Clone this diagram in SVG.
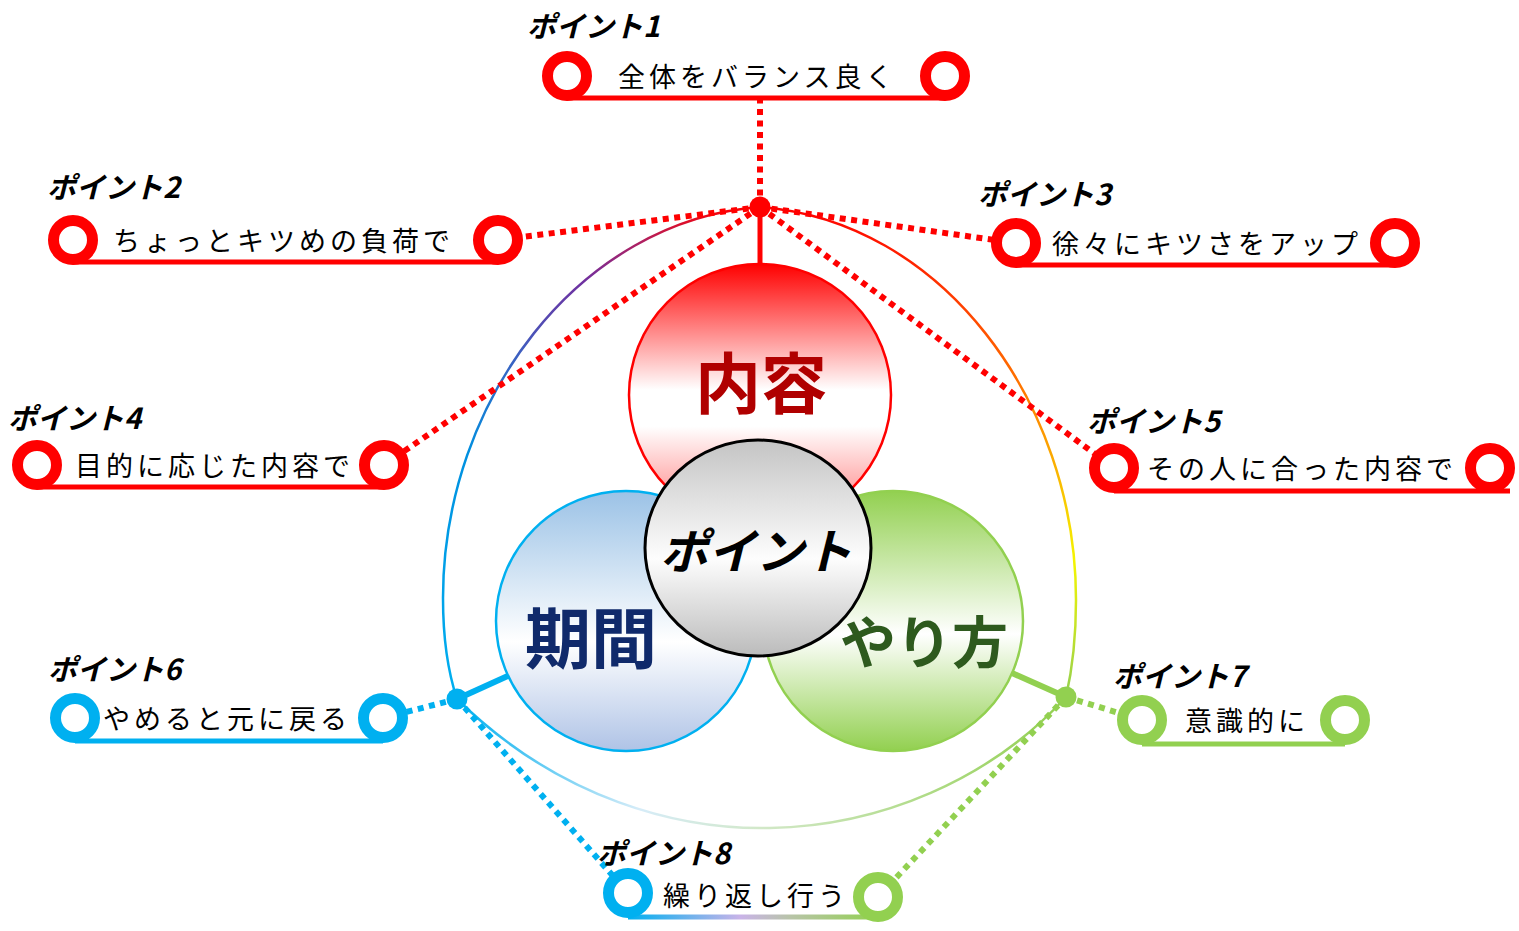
<svg xmlns="http://www.w3.org/2000/svg" width="1519" height="931" viewBox="0 0 1519 931">
<defs>
<linearGradient id="gRed" x1="0" y1="0" x2="0" y2="1">
<stop offset="0" stop-color="#FF0000"/><stop offset="0.48" stop-color="#FFFFFF"/><stop offset="0.62" stop-color="#FFFFFF"/><stop offset="1" stop-color="#FF7070"/>
</linearGradient>
<linearGradient id="gBlue" x1="0" y1="0" x2="0" y2="1">
<stop offset="0" stop-color="#9BC2E6"/><stop offset="0.58" stop-color="#FFFFFF"/><stop offset="1" stop-color="#AFC3E6"/>
</linearGradient>
<linearGradient id="gGreen" x1="0" y1="0" x2="0" y2="1">
<stop offset="0" stop-color="#92D050"/><stop offset="0.55" stop-color="#FFFFFF"/><stop offset="1" stop-color="#92D050"/>
</linearGradient>
<linearGradient id="gGray" x1="0" y1="0" x2="0" y2="1">
<stop offset="0" stop-color="#C4C4C4"/><stop offset="0.55" stop-color="#FDFDFD"/><stop offset="1" stop-color="#BBBBBB"/>
</linearGradient>
<linearGradient id="gLeftArc" gradientUnits="userSpaceOnUse" x1="0" y1="207" x2="0" y2="699">
<stop offset="0" stop-color="#FF0000"/><stop offset="0.07" stop-color="#B02060"/><stop offset="0.15" stop-color="#7030A0"/><stop offset="0.3" stop-color="#3D5FC0"/><stop offset="0.5" stop-color="#0090E0"/><stop offset="1" stop-color="#00B0F0"/>
</linearGradient>
<linearGradient id="gRightArc" gradientUnits="userSpaceOnUse" x1="0" y1="207" x2="0" y2="697">
<stop offset="0" stop-color="#FF0000"/><stop offset="0.35" stop-color="#FF7000"/><stop offset="0.72" stop-color="#F5F500"/><stop offset="1" stop-color="#92D050"/>
</linearGradient>
<linearGradient id="gBottomArc" gradientUnits="userSpaceOnUse" x1="457" y1="0" x2="1066" y2="0">
<stop offset="0" stop-color="#00B0F0"/><stop offset="0.3" stop-color="#D6ECF8"/><stop offset="0.5" stop-color="#D2E8C8"/><stop offset="1" stop-color="#92D050"/>
</linearGradient>
<linearGradient id="gLine8" gradientUnits="userSpaceOnUse" x1="628" y1="0" x2="878" y2="0">
<stop offset="0" stop-color="#00B0F0"/><stop offset="0.45" stop-color="#C9B3E8"/><stop offset="0.65" stop-color="#B8C4A8"/><stop offset="1" stop-color="#92D050"/>
</linearGradient>
<style>
.t{font-family:"Noto Sans CJK JP","Noto Sans CJK SC",sans-serif;font-size:27px;letter-spacing:4px;fill:#000}
.h{font-family:"Noto Sans CJK JP","Noto Sans CJK SC",sans-serif;font-size:29px;font-weight:700;font-style:italic;fill:#000}
.big{font-family:"Noto Sans CJK JP","Noto Sans CJK SC",sans-serif;font-weight:700;text-anchor:middle}
.ringR{fill:#fff;stroke:#FF0000;stroke-width:11}
.ringB{fill:#fff;stroke:#00B0F0;stroke-width:11}
.ringG{fill:#fff;stroke:#92D050;stroke-width:11}
.ulR{stroke:#FF0000;stroke-width:5;fill:none}
.ulB{stroke:#00B0F0;stroke-width:5;fill:none}
.ulG{stroke:#92D050;stroke-width:5;fill:none}
.dR{stroke:#FF0000;stroke-width:6;stroke-dasharray:6 5.5;fill:none}
.dB{stroke:#00B0F0;stroke-width:6;stroke-dasharray:6 5.5;fill:none}
.dG{stroke:#92D050;stroke-width:6;stroke-dasharray:6 5.5;fill:none}
</style>
</defs>
<rect width="1519" height="931" fill="#FFFFFF"/>

<g id="outer-shape" fill="none" stroke-width="2.5">
<path d="M760,207 C580,220 443,400 443,598 C443,640 449,675 457,699" stroke="url(#gLeftArc)"/>
<path d="M760,207 C940,220 1076,400 1076,600 C1076,640 1071,675 1066,697" stroke="url(#gRightArc)"/>
<path d="M457,699 C560,800 680,830 770,828 C880,826 990,780 1066,697" stroke="url(#gBottomArc)"/>
</g>

<g id="connectors">
<line x1="760" y1="207" x2="760" y2="266" stroke="#FF0000" stroke-width="5"/>
<line x1="457" y1="699" x2="510" y2="675" stroke="#00B0F0" stroke-width="6"/>
<line x1="1066" y1="697" x2="1012" y2="673" stroke="#92D050" stroke-width="6"/>
<line class="dR" x1="760" y1="207" x2="760" y2="100"/>
<line class="dR" x1="760" y1="207" x2="498" y2="240"/>
<line class="dR" x1="760" y1="207" x2="384" y2="465"/>
<line class="dR" x1="760" y1="207" x2="1016" y2="243"/>
<line class="dR" x1="760" y1="207" x2="1114" y2="468"/>
<line class="dB" x1="457" y1="699" x2="383" y2="718"/>
<line class="dB" x1="457" y1="699" x2="628" y2="893"/>
<line class="dG" x1="1066" y1="697" x2="1142" y2="720"/>
<line class="dG" x1="1066" y1="697" x2="878" y2="897"/>
<circle cx="760" cy="207" r="10.5" fill="#FF0000"/>
<circle cx="457" cy="699" r="10.5" fill="#00B0F0"/>
<circle cx="1066" cy="697" r="10.5" fill="#92D050"/>
</g>

<g id="node-naiyou">
<circle cx="760" cy="395" r="131" fill="url(#gRed)" stroke="#FF0000" stroke-width="2.5"/>
<text class="big" x="761" y="408" font-size="66" fill="#B00000">内容</text>
</g>
<g id="node-kikan">
<circle cx="626" cy="621" r="130" fill="url(#gBlue)" stroke="#00B0F0" stroke-width="2.5"/>
<text class="big" x="591" y="663" font-size="66" fill="#102A6B">期間</text>
</g>
<g id="node-yarikata">
<circle cx="893" cy="621" r="130" fill="url(#gGreen)" stroke="#92D050" stroke-width="2.5"/>
<text class="big" x="924" y="663" font-size="56" fill="#2E5A1E">やり方</text>
</g>
<g id="node-point">
<ellipse cx="758" cy="548" rx="113" ry="108" fill="url(#gGray)" stroke="#000" stroke-width="3"/>
<text class="big" x="756" y="569" font-size="48" font-weight="900" font-style="italic" fill="#000">ポイント</text>
</g>

<g id="label-1">
<line class="ulR" x1="567" y1="98" x2="945" y2="98"/>
<circle class="ringR" cx="567" cy="76" r="19.5"/>
<circle class="ringR" cx="945" cy="76" r="19.5"/>
<text class="h" x="527" y="37">ポイント1</text>
<text class="t" x="618" y="87">全体をバランス良く</text>
</g>
<g id="label-2">
<line class="ulR" x1="73" y1="262" x2="498" y2="262"/>
<circle class="ringR" cx="73" cy="240" r="19.5"/>
<circle class="ringR" cx="498" cy="240" r="19.5"/>
<text class="h" x="47" y="198">ポイント2</text>
<text class="t" x="113" y="251">ちょっとキツめの負荷で</text>
</g>
<g id="label-3">
<line class="ulR" x1="1016" y1="265" x2="1395" y2="265"/>
<circle class="ringR" cx="1016" cy="243" r="19.5"/>
<circle class="ringR" cx="1395" cy="243" r="19.5"/>
<text class="h" x="978" y="205">ポイント3</text>
<text class="t" x="1052" y="254">徐々にキツさをアップ</text>
</g>
<g id="label-4">
<line class="ulR" x1="37" y1="487" x2="384" y2="487"/>
<circle class="ringR" cx="37" cy="465" r="19.5"/>
<circle class="ringR" cx="384" cy="465" r="19.5"/>
<text class="h" x="8" y="429">ポイント4</text>
<text class="t" x="75" y="476">目的に応じた内容で</text>
</g>
<g id="label-5">
<line class="ulR" x1="1114" y1="491" x2="1510" y2="491"/>
<circle class="ringR" cx="1114" cy="468" r="19.5"/>
<circle class="ringR" cx="1490" cy="468" r="19.5"/>
<text class="h" x="1087" y="432">ポイント5</text>
<text class="t" x="1147" y="479">その人に合った内容で</text>
</g>
<g id="label-6">
<line class="ulB" x1="75" y1="741" x2="383" y2="741"/>
<circle class="ringB" cx="75" cy="718" r="19.5"/>
<circle class="ringB" cx="383" cy="718" r="19.5"/>
<text class="h" x="48" y="680">ポイント6</text>
<text class="t" x="103" y="729">やめると元に戻る</text>
</g>
<g id="label-7">
<line class="ulG" x1="1142" y1="744" x2="1345" y2="744"/>
<circle class="ringG" cx="1142" cy="720" r="19.5"/>
<circle class="ringG" cx="1345" cy="720" r="19.5"/>
<text class="h" x="1113" y="687">ポイント7</text>
<text class="t" x="1185" y="731">意識的に</text>
</g>
<g id="label-8">
<line x1="628" y1="917" x2="878" y2="917" stroke="url(#gLine8)" stroke-width="5"/>
<circle class="ringB" cx="628" cy="893" r="19.5"/>
<circle class="ringG" cx="878" cy="897" r="19.5"/>
<text class="h" x="597" y="864">ポイント8</text>
<text class="t" x="663" y="906">繰り返し行う</text>
</g>
</svg>
